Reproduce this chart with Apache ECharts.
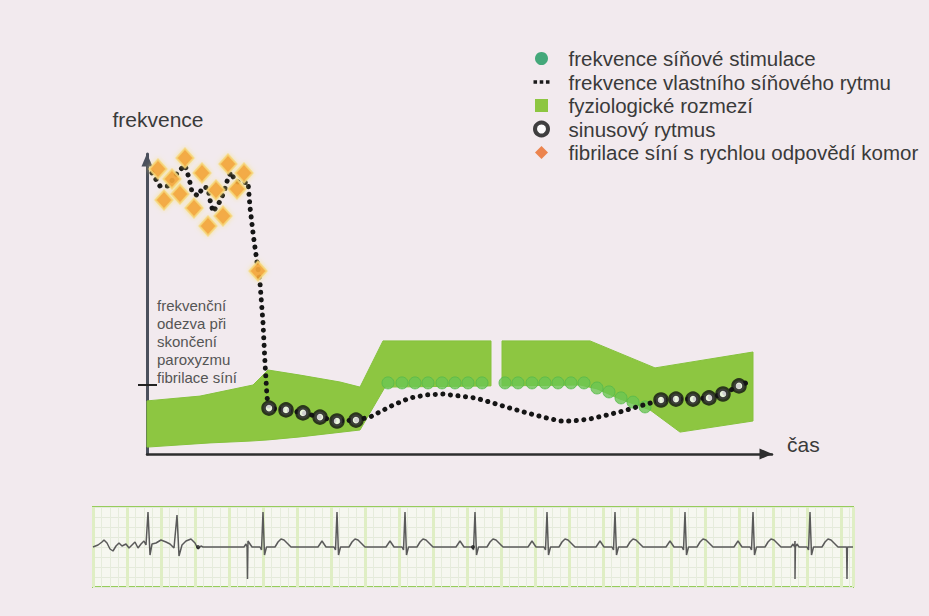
<!DOCTYPE html>
<html>
<head>
<meta charset="utf-8">
<script src="https://cdn.jsdelivr.net/npm/echarts@6/dist/echarts.min.js"></script>
<style>
html,body{margin:0;padding:0;background:#f2eaee;}
#chart{width:929px;height:616px;}
</style>
</head>
<body>
<div id="chart"></div>
<script>
// ---------- main diagram data (x = time units, y = frequency units) ----------
const bandLeftUpper  = [[0,17.7],[10.6,19.3],[21.2,23],[24.2,28],[30.6,26.3],[38.6,24],[42.6,22.3],[47.2,37.7],[68.8,37.7]];
const bandLeftLower  = [[68.8,22.7],[47.6,22.3],[42.6,8],[30.6,5.7],[24.2,4.7],[20.6,4.3],[12.6,3.7],[0,2.3]];
const bandRightUpper = [[71,37.7],[88.6,37.7],[101.6,28.7],[121.2,34]];
const bandRightLower = [[121.2,11],[106.6,7.3],[100.6,14.7],[99.6,15.3],[94.6,18.3],[90,21.7],[86.6,23],[71,22.7]];

const pacingRate = [[48.2,23.7],[51,23.7],[53.6,23.7],[56.2,23.7],[59,23.7],[61.6,23.7],[64.2,23.7],[67,23.7],
  [71.6,23.7],[74.2,23.7],[77,23.7],[79.6,23.7],[82.2,23.7],[84.8,23.7],[87.4,23.7],
  [90,22],[92.4,20.7],[94.8,18.7],[97.2,17.3],[99.6,15.7]];

const sinusRhythm = [[24.4,15.3],[27.8,14.7],[31.2,13.7],[34.6,12.3],[38,11],[41.8,11.3],
  [102.8,18],[105.8,18.3],[109.2,18.3],[112.4,18.7],[115.2,20],[118.4,22.7]];

const afibRapid = [[2.2,95],[7.6,98.7],[5,91.7],[3.4,84.7],[6.6,86.7],[11,93.7],[9.4,82],[13.8,88],
  [12.2,76],[15.2,79.3],[16.2,96.7],[18,88.3],[19.4,93.7],[22.2,61]];

const intrinsicRate = [[1,93.7],[2.6,89.3],[4.2,89.3],[6.2,94],[7.6,96.3],[8.4,92],[9,87.3],[10.2,86],[11.2,89],
  [12.2,88.7],[12.6,84.7],[13.2,80.7],[14.4,83.7],[15.4,87.3],[16.2,92],[16.8,94],[17.6,91],[19,90.3],[20.2,90.7],
  [20.6,82.3],[21.2,73.7],[22,64],[22.6,57],[23.2,43.7],[23.6,30.3],[24,19],
  [24.4,15.3],[27.8,14.7],[31.2,13.7],[34.6,12.3],[38,11],[41.8,11.3],
  [44.6,12.3],[49.2,16.3],[52.6,18.7],[56,19.7],[59.2,20],[62.6,19.3],[65.6,18.7],[69.2,17],[72.6,15.3],
  [76,13.7],[79.2,12.3],[82.6,11],[85.2,11],[88.6,11.7],[92,13],[95.2,14.3],[98.6,16],
  [102.8,18],[105.8,18.3],[109.2,18.3],[112.4,18.7],[115.2,20],[118.4,22.7],[120.2,24]];

const responseLevel = 23;

const seriesNames = ['frekvence síňové stimulace','frekvence vlastního síňového rytmu','fyziologické rozmezí','sinusový rytmus','fibrilace síní s rychlou odpovědí komor'];
const annotationLines = ['frekvenční','odezva při','skončení','paroxyzmu','fibrilace síní'];
const yAxisTitle = 'frekvence';
const xAxisTitle = 'čas';

// ---------- ECG strip data (x = time units, y = mV-like units) ----------
const ecgFib = [[0,0],[0.5,0.2],[0.9,0.5],[1.1,0.7],[1.4,0.4],[1.7,-0.2],[2.0,-0.4],[2.3,0.1],[2.6,0.4],[2.9,0.1],
  [3.3,0.3],[3.6,-0.1],[3.9,0.2],[4.2,0.5],[4.5,-0.1],[4.8,0.3],[5.1,0.6],[5.3,0.2],[5.5,3.5],[5.7,-0.8],[5.9,0.3],
  [6.3,0.4],[6.8,0.7],[7.3,0.5],[7.7,0.3],[8.1,-0.1],[8.4,3.2],[8.6,-0.9],[8.9,0.2],[9.3,0.6],[9.8,0.8],[10.2,0.4],
  [10.5,-0.2],[10.8,0.1],[11.0,0]];
const ecgBeats = [17.0,24.4,31.2,38.2,45.4,52.2,59.2,66.0,71.7];
const ecgBeatShape = [[-1.9,0],[-1.7,0.3],[-1.5,0.6],[-1.3,0.3],[-1.1,0],[-0.3,0],[-0.15,-0.3],[0,3.5],[0.15,-0.8],[0.35,0],
  [1.2,0],[1.5,0.5],[1.8,0.8],[2.1,0.7],[2.5,0.3],[2.8,0]];
const ecgPaceSpikes = [15.45,70.2,75.4];
const ecgSpikeDepth = -3.2;
const ecgEnd = 76;
const ecgDots = [[10.5,0],[38.0,0]];

// ---------- build ----------
const bandPolys = [bandLeftUpper.concat(bandLeftLower), bandRightUpper.concat(bandRightLower)];
const ecgTrace = ecgFib
  .concat(ecgBeats.flatMap(b => ecgBeatShape.map(([dx,dy]) => [+(b+dx).toFixed(2), dy])))
  .concat(ecgPaceSpikes.flatMap(s => [[s-0.04,0],[s,ecgSpikeDepth],[s+0.04,0]]))
  .concat([[ecgEnd,0]])
  .sort((a,b) => a[0]-b[0]);

const FONT = '"Liberation Sans", Arial, sans-serif';
const TXT = '#3a3a3a';
const GREEN = '#8dc641';

const chart = echarts.init(document.getElementById('chart'), null, {renderer: 'svg'});
chart.setOption({
  animation: false,
  backgroundColor: '#f2eaee',
  legend: {
    orient: 'vertical', left: 533, top: 47, padding: 0, itemGap: 0.5,
    itemWidth: 16, itemHeight: 13, selectedMode: false,
    textStyle: {fontSize: 20.5, fontFamily: FONT, color: TXT, lineHeight: 23, padding: [0,0,0,14]},
    data: [
      {name: seriesNames[0], icon: 'circle', itemStyle: {color: '#18975c', borderWidth: 0}},
      {name: seriesNames[1], icon: 'path://M0,0h4v4h-4zM7,0h4v4h-4zM14,0h4v4h-4z', itemStyle: {color: '#1a1a1a', borderWidth: 0}},
      {name: seriesNames[2], icon: 'path://M0,0h10v10h-10z', itemStyle: {color: GREEN, borderWidth: 0}},
      {name: seriesNames[3], icon: 'circle', itemStyle: {color: '#fff', borderColor: '#111', borderWidth: 4}},
      {name: seriesNames[4], icon: 'path://M5,0L10,5L5,10L0,5Z', itemStyle: {color: '#ea6a25', borderWidth: 0, shadowBlur: 0}}
    ]
  },
  grid: [
    {left: 147, top: 154, width: 625, height: 300},
    {left: 93, top: 507, width: 760, height: 80, show: true, backgroundColor: '#f6f7f0', borderColor: '#97cc5c', borderWidth: 2}
  ],
  xAxis: [
    {gridIndex: 0, type: 'value', min: 0, max: 125,
      axisLine: {show: true, symbol: ['none','triangle'], symbolSize: [11,13], symbolOffset: [0,-6], lineStyle: {color: '#2e2e2e', width: 2.5}},
      axisTick: {show: false}, axisLabel: {show: false}, splitLine: {show: false},
      name: xAxisTitle, nameLocation: 'end', nameGap: 15,
      nameTextStyle: {fontSize: 21, fontFamily: FONT, color: TXT, verticalAlign: 'bottom', padding: [0,0,-1,0]}},
    {gridIndex: 1, type: 'value', min: 0, max: 76, interval: 3.4,
      axisLine: {show: false}, axisTick: {show: false}, axisLabel: {show: false},
      splitLine: {show: true, lineStyle: {color: '#dfeec4', width: 3}},
      minorTick: {show: false, splitNumber: 4},
      minorSplitLine: {show: true, lineStyle: {color: '#e6ecdc', width: 1}}}
  ],
  yAxis: [
    {gridIndex: 0, type: 'value', min: 0, max: 100,
      axisLine: {show: true, symbol: ['none','triangle'], symbolSize: [11,13], symbolOffset: [0,-6], lineStyle: {color: '#4b505c', width: 3}},
      axisTick: {show: true, customValues: [responseLevel], length: 9, lineStyle: {color: '#222', width: 2}},
      axisLabel: {show: false}, splitLine: {show: false},
      name: yAxisTitle, nameLocation: 'end', nameGap: 23,
      nameTextStyle: {fontSize: 21, fontFamily: FONT, color: TXT, lineHeight: 24, padding: [0,0,0,22]}},
    {gridIndex: 0, type: 'value', min: 0, max: 100, position: 'left',
      axisLine: {show: false},
      axisTick: {show: true, inside: true, customValues: [responseLevel], length: 10, lineStyle: {color: '#222', width: 2}},
      axisLabel: {show: false}, splitLine: {show: false}},
    {gridIndex: 1, type: 'value', min: -4, max: 4, interval: 1,
      axisLine: {show: false}, axisTick: {show: false}, axisLabel: {show: false},
      splitLine: {show: true, lineStyle: {color: '#e4eadb', width: 1}}}
  ],
  graphic: [
    {type: 'text', left: 157, top: 296, silent: true,
      style: {text: annotationLines.join('\n'), font: '15px ' + FONT, fill: '#555', lineHeight: 18}}
  ],
  series: [
    {name: seriesNames[2], type: 'custom', xAxisIndex: 0, yAxisIndex: 0, z: 1, silent: true,
      itemStyle: {color: GREEN},
      data: bandPolys.map((p, i) => [p[0][0], p[0][1], i]),
      renderItem: function (params, api) {
        const poly = bandPolys[api.value(2)];
        return {type: 'polygon', shape: {points: poly.map(pt => api.coord(pt))},
          style: {fill: GREEN, stroke: '#86c23d', lineWidth: 1}};
      }},
    {name: seriesNames[0], type: 'scatter', xAxisIndex: 0, yAxisIndex: 0, z: 3, silent: true,
      data: pacingRate, symbol: 'circle', symbolSize: 12,
      itemStyle: {color: '#6cc552', borderColor: '#55b94b', borderWidth: 1}},
    {name: seriesNames[1], type: 'line', xAxisIndex: 0, yAxisIndex: 0, z: 4, silent: true,
      data: intrinsicRate, symbol: 'none', showSymbol: false,
      lineStyle: {color: '#151515', width: 5, type: [0.1, 7.5], cap: 'round'},
      itemStyle: {color: '#151515'}},
    {name: seriesNames[3], type: 'scatter', xAxisIndex: 0, yAxisIndex: 0, z: 5, silent: true,
      data: sinusRhythm, symbol: 'circle', symbolSize: 11,
      itemStyle: {color: '#ffffff', borderColor: '#111', borderWidth: 4.5}},
    {name: seriesNames[4], type: 'scatter', xAxisIndex: 0, yAxisIndex: 0, z: 6, silent: true,
      data: afibRapid, symbol: 'diamond', symbolSize: [17,19],
      itemStyle: {color: '#f39a24', borderColor: '#f6d77a', borderWidth: 2, shadowBlur: 5, shadowColor: 'rgba(248,226,120,0.8)'}},
    {name: 'ekg', type: 'line', xAxisIndex: 1, yAxisIndex: 2, z: 3, silent: true,
      data: ecgTrace, symbol: 'none', lineStyle: {color: '#5a5a5a', width: 1.5}},
    {name: 'ekg-body', type: 'scatter', xAxisIndex: 1, yAxisIndex: 2, z: 4, silent: true,
      data: ecgDots, symbol: 'circle', symbolSize: 4, itemStyle: {color: '#222'}}
  ]
});
</script>
</body>
</html>
